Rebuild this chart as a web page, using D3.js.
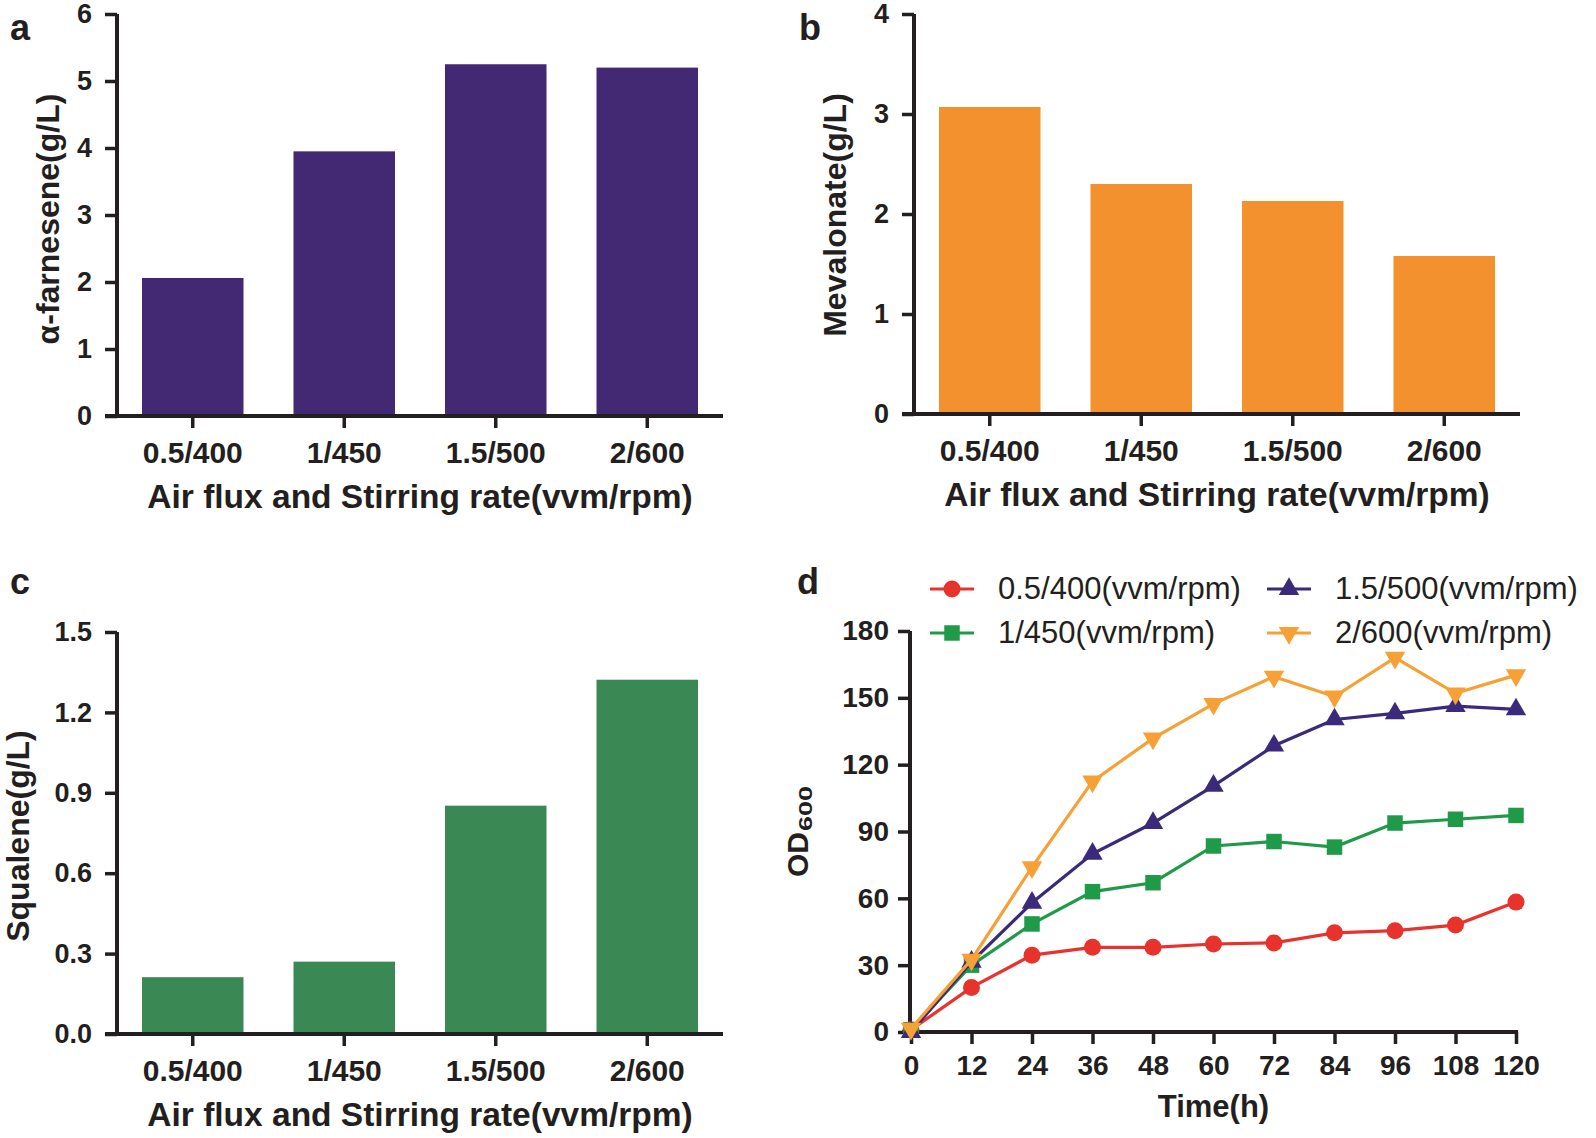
<!DOCTYPE html>
<html lang="en">
<head>
<meta charset="UTF-8">
<title>Air flux and stirring rate</title>
<script src="https://d3js.org/d3.v7.min.js"></script>
<style>
  body { margin: 0; background: #ffffff; }
  svg text { fill: #231f20; font-family: "Liberation Sans", Arial, sans-serif; }
  .y-ax .tick text { font-size: 27px; font-weight: bold; }
  .x-ax .tick text { font-size: 30px; font-weight: bold; }
  .t-ax .tick text { font-size: 28px; font-weight: bold; }
  .tick line { stroke: #231f20; stroke-width: 3.5px; }
  .axis-line { stroke: #231f20; stroke-width: 4px; fill: none; }
  .x-title { font-size: 33.5px; font-weight: bold; }
  .y-title { font-size: 32px; font-weight: bold; }
  .panel-label { font-size: 36px; font-weight: bold; }
  .legend text { font-size: 31px; }
</style>
</head>
<body>
<svg id="chart" width="1596" height="1138"></svg>
<script>
// bar panels a-c
const categories = ["0.5/400", "1/450", "1.5/500", "2/600"];
const farnesene = [2.06, 3.95, 5.25, 5.20];
const mevalonate = [3.07, 2.30, 2.13, 1.58];
const squalene = [0.212, 0.270, 0.852, 1.322];

// panel d, OD600 over time
const hours = [0, 12, 24, 36, 48, 60, 72, 84, 96, 108, 120];
const od400 = [1, 20, 34.5, 38, 38, 39.5, 40, 44.5, 45.5, 48, 58.3];
const od450 = [1, 30, 48.5, 63, 67, 83.5, 85.5, 83, 93.8, 95.5, 97.2];
const od500 = [0, 31.5, 58, 80, 93.8, 110.5, 128.5, 140.3, 143, 146.3, 144.8];
const od600 = [1.5, 32.5, 74, 112.5, 131.8, 147.3, 159.5, 150.6, 168, 152, 160.2];
const seriesNames = ["0.5/400(vvm/rpm)", "1/450(vvm/rpm)", "1.5/500(vvm/rpm)", "2/600(vvm/rpm)"];

const svg = d3.select("#chart");

function barPanel(cfg) {
  const g = svg.append("g");
  const x = d3.scaleBand()
    .domain(categories)
    .range([cfg.x0, cfg.x0 + 606])
    .paddingInner(0.33)
    .paddingOuter(0.165);
  const y = d3.scaleLinear().domain([0, cfg.max]).range([cfg.yBot, cfg.yTop]);

  g.selectAll("rect.bar")
    .data(cfg.values)
    .join("rect")
    .attr("class", "bar")
    .attr("x", (d, i) => x(categories[i]))
    .attr("width", x.bandwidth())
    .attr("y", d => y(d))
    .attr("height", d => y(0) - y(d))
    .attr("fill", cfg.color);

  const yAxis = g.append("g").attr("class", "y-ax")
    .attr("transform", `translate(${cfg.x0},0)`)
    .call(d3.axisLeft(y).tickValues(d3.range(0, cfg.max + 1e-9, cfg.step))
      .tickFormat(d3.format(cfg.fmt)).tickSize(12).tickSizeOuter(0).tickPadding(13));
  yAxis.select(".domain").remove();

  const xAxis = g.append("g").attr("class", "x-ax")
    .attr("transform", `translate(0,${cfg.yBot})`)
    .call(d3.axisBottom(x).tickSize(12).tickSizeOuter(0).tickPadding(14));
  xAxis.select(".domain").remove();

  g.append("line").attr("class", "axis-line")
    .attr("x1", cfg.x0).attr("x2", cfg.x0)
    .attr("y1", cfg.yBot + 2).attr("y2", cfg.yTop);
  g.append("line").attr("class", "axis-line")
    .attr("x1", cfg.x0 - 12).attr("x2", cfg.x0 + 606)
    .attr("y1", cfg.yBot).attr("y2", cfg.yBot);

  g.append("text").attr("class", "x-title")
    .attr("x", cfg.x0 + 303).attr("y", cfg.yBot + 92)
    .attr("text-anchor", "middle")
    .text("Air flux and Stirring rate(vvm/rpm)");

  g.append("text").attr("class", "y-title")
    .attr("transform", `translate(${cfg.titleX},${cfg.titleY}) rotate(-90)`)
    .attr("text-anchor", "middle")
    .text(cfg.yTitle);

  g.append("text").attr("class", "panel-label")
    .attr("x", cfg.labelX).attr("y", cfg.labelY)
    .text(cfg.label);
}

barPanel({label: "a", labelX: 10, labelY: 40, x0: 117, yTop: 14, yBot: 416, max: 6, step: 1, fmt: "d",
  values: farnesene, color: "#432874", yTitle: "\u03b1-farnesene(g/L)", titleX: 59, titleY: 219});
barPanel({label: "b", labelX: 799, labelY: 40, x0: 914, yTop: 14, yBot: 414, max: 4, step: 1, fmt: "d",
  values: mevalonate, color: "#f4912f", yTitle: "Mevalonate(g/L)", titleX: 846, titleY: 215});
barPanel({label: "c", labelX: 10, labelY: 594, x0: 117, yTop: 632, yBot: 1034, max: 1.5, step: 0.3, fmt: ".1f",
  values: squalene, color: "#3a8955", yTitle: "Squalene(g/L)", titleX: 29, titleY: 836});

// panel d
(function () {
  const g = svg.append("g");
  const x0 = 910, yTop = 631, yBot = 1032;
  const x = d3.scaleLinear().domain([0, 120]).range([911, 1516]);
  const y = d3.scaleLinear().domain([0, 180]).range([yBot, yTop]);

  const yAxis = g.append("g").attr("class", "y-ax")
    .attr("transform", `translate(${x0},0)`)
    .call(d3.axisLeft(y).tickValues(d3.range(0, 181, 30)).tickSize(12).tickSizeOuter(0).tickPadding(9));
  yAxis.selectAll(".tick text").style("font-size", "28px");
  yAxis.select(".domain").remove();
  const xAxis = g.append("g").attr("class", "t-ax")
    .attr("transform", `translate(0,${yBot})`)
    .call(d3.axisBottom(x).tickValues(hours).tickSize(12).tickSizeOuter(0).tickPadding(11));
  xAxis.select(".domain").remove();
  g.append("line").attr("class", "axis-line")
    .attr("x1", x0).attr("x2", x0).attr("y1", yBot + 2).attr("y2", yTop);
  g.append("line").attr("class", "axis-line")
    .attr("x1", x0 - 8).attr("x2", x(120) + 2).attr("y1", yBot).attr("y2", yBot);

  const series = [
    {name: seriesNames[0], values: od400, color: "#e8332d", shape: d3.symbolCircle, size: 227, rot: 0},
    {name: seriesNames[1], values: od450, color: "#1f9a48", shape: d3.symbolSquare, size: 240, rot: 0},
    {name: seriesNames[2], values: od500, color: "#3b2a7b", shape: d3.symbolTriangle, size: 180, rot: 0},
    {name: seriesNames[3], values: od600, color: "#f7a035", shape: d3.symbolTriangle, size: 180, rot: 180}
  ];
  const line = d3.line().x((d, i) => x(hours[i])).y(d => y(d));

  series.forEach(s => {
    const sg = g.append("g");
    sg.append("path").attr("d", line(s.values))
      .attr("fill", "none").attr("stroke", s.color).attr("stroke-width", 3.2);
    sg.selectAll("path.pt")
      .data(s.values)
      .join("path")
      .attr("class", "pt")
      .attr("d", d3.symbol().type(s.shape).size(s.size))
      .attr("transform", (d, i) => `translate(${x(hours[i])},${y(d)}) rotate(${s.rot})`)
      .attr("fill", s.color);
  });

  // legend
  const legendPos = [[930, 589], [930, 633], [1267, 589], [1267, 633]];
  const lg = g.append("g").attr("class", "legend");
  series.forEach((s, i) => {
    const [lx, ly] = legendPos[i];
    lg.append("line").attr("x1", lx).attr("x2", lx + 44).attr("y1", ly).attr("y2", ly)
      .attr("stroke", s.color).attr("stroke-width", 3.2);
    lg.append("path")
      .attr("d", d3.symbol().type(s.shape).size(s.size))
      .attr("transform", `translate(${lx + 22},${ly}) rotate(${s.rot})`)
      .attr("fill", s.color);
    lg.append("text").attr("x", lx + 68).attr("y", ly + 10).text(s.name);
  });

  g.append("text").attr("class", "x-title")
    .style("font-size", "31px")
    .attr("x", x(60)).attr("y", yBot + 85)
    .attr("text-anchor", "middle").text("Time(h)");

  const od = g.append("g").attr("transform", "translate(808,877) rotate(-90)");
  od.append("text").attr("class", "y-title").style("font-size", "30px").text("OD");
  od.append("text").attr("class", "y-title").style("font-size", "18px")
    .attr("x", 46).attr("y", 4)
    .attr("textLength", 45).attr("lengthAdjust", "spacingAndGlyphs")
    .text("600");

  g.append("text").attr("class", "panel-label")
    .attr("x", 797).attr("y", 594).text("d");
})();
</script>
</body>
</html>
